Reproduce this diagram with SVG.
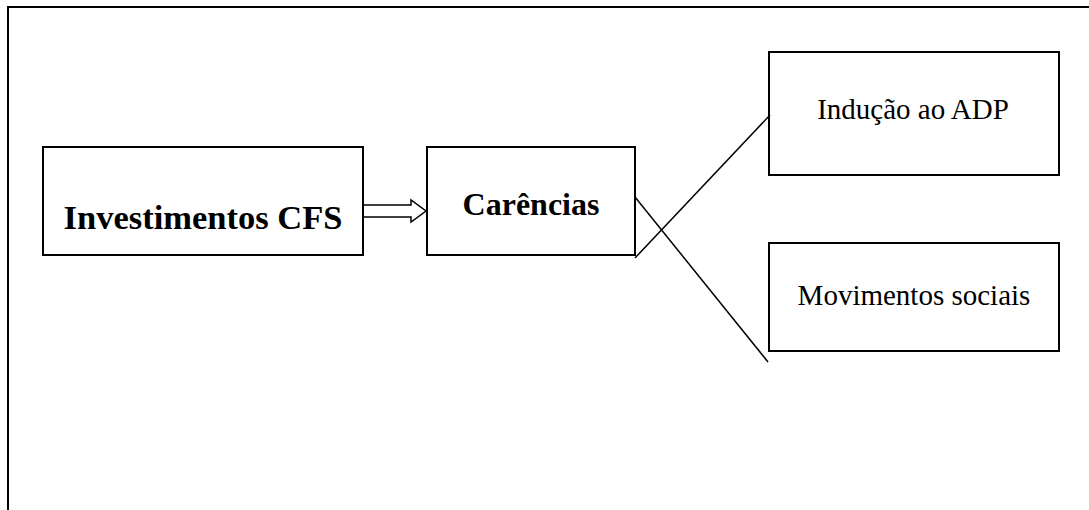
<svg xmlns="http://www.w3.org/2000/svg" width="1089" height="510" viewBox="0 0 1089 510">
<style>
.box{fill:#fff;stroke:#000;stroke-width:2}
.ln{fill:none;stroke:#000;stroke-width:1.5}
.b{font-family:"Liberation Serif","Times New Roman",serif;font-weight:bold;fill:#000}
.r{font-family:"Liberation Serif","Times New Roman",serif;font-size:29px;fill:#000}
</style>
<rect x="0" y="0" width="1089" height="510" fill="#fff"/>
<path d="M8,520 V7 H1100" fill="none" stroke="#000" stroke-width="2"/>
<g id="investimentos">
<rect class="box" x="43" y="147" width="320" height="108"/>
<text class="b" x="203" y="229" font-size="34.5" text-anchor="middle">Investimentos CFS</text>
</g>
<g id="carencias">
<rect class="box" x="427" y="147" width="208" height="108"/>
<text class="b" x="531" y="215" font-size="32" text-anchor="middle">Carências</text>
</g>
<g id="inducao">
<rect class="box" x="769" y="52" width="290" height="123"/>
<text class="r" x="913" y="119" text-anchor="middle">Indução ao ADP</text>
</g>
<g id="movimentos">
<rect class="box" x="769" y="243" width="290" height="108"/>
<text class="r" x="914" y="305" text-anchor="middle">Movimentos sociais</text>
</g>
<g id="connectors">
<polyline class="ln" points="363,205 411,205 411,200 426,211 411,222 411,217 363,217"/>
<line class="ln" x1="635" y1="258" x2="770" y2="115"/>
<line class="ln" x1="635" y1="197" x2="768" y2="362"/>
</g>
</svg>
